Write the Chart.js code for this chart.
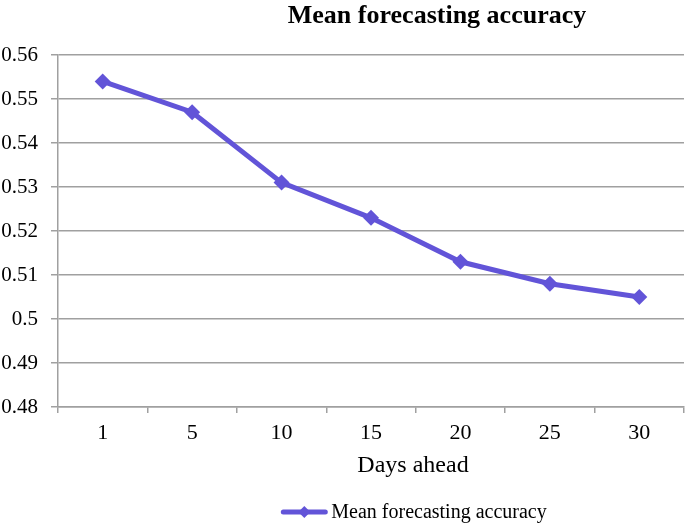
<!DOCTYPE html>
<html>
<head>
<meta charset="utf-8">
<script src="https://cdn.jsdelivr.net/npm/chart.js@4/dist/chart.umd.min.js"></script>
<style>
  html, body { margin: 0; padding: 0; background: #ffffff; overflow: hidden; }
  canvas { display: block; }
</style>
</head>
<body>
<canvas id="c" width="685" height="524" style="width:685px;height:524px"></canvas>
<script>
const chartTitle = "Mean forecasting accuracy";
const xAxisTitle = "Days ahead";
const seriesLabel = "Mean forecasting accuracy";
const days = ["1", "5", "10", "15", "20", "25", "30"];
const accuracy = [0.554, 0.547, 0.531, 0.523, 0.513, 0.508, 0.505];
const yMin = 0.48, yMax = 0.56, yStep = 0.01;

const lineColor = "#6254d8";
const gridColor = "#a0a0a0";
const serif = '"Liberation Serif", "Times New Roman", serif';

const textPlugin = {
  id: 'customText',
  afterDraw(chart) {
    const ctx = chart.ctx;
    ctx.save();
    ctx.fillStyle = '#000000';
    ctx.textAlign = 'center';
    ctx.textBaseline = 'middle';
    ctx.font = 'bold 26px ' + serif;
    ctx.fillText(chartTitle, 437, 16);
    ctx.font = '24px ' + serif;
    ctx.fillText(xAxisTitle, 413, 466);
    // legend
    const ly = 512;
    ctx.font = '20px ' + serif;
    const tw = ctx.measureText(seriesLabel).width;
    const sw = 46, gap = 4;
    const total = sw + gap + tw;
    const x0 = 414 - total / 2;
    ctx.strokeStyle = lineColor;
    ctx.lineWidth = 5;
    ctx.lineCap = 'round';
    ctx.beginPath();
    ctx.moveTo(x0 + 2, ly);
    ctx.lineTo(x0 + sw - 2, ly);
    ctx.stroke();
    ctx.fillStyle = lineColor;
    const cx = x0 + sw / 2, r = 6;
    ctx.beginPath();
    ctx.moveTo(cx, ly - r);
    ctx.lineTo(cx + r, ly);
    ctx.lineTo(cx, ly + r);
    ctx.lineTo(cx - r, ly);
    ctx.closePath();
    ctx.fill();
    ctx.fillStyle = '#000000';
    ctx.textAlign = 'left';
    ctx.fillText(seriesLabel, x0 + sw + gap, ly + 1);
    ctx.restore();
  }
};

new Chart(document.getElementById('c'), {
  type: 'line',
  data: {
    labels: days,
    datasets: [{
      label: seriesLabel,
      data: accuracy,
      borderColor: lineColor,
      backgroundColor: lineColor,
      borderWidth: 5,
      pointStyle: 'rectRot',
      pointRadius: 8,
      pointHoverRadius: 8,
      pointBorderWidth: 0,
      tension: 0,
      fill: false
    }]
  },
  options: {
    responsive: false,
    animation: false,
    events: [],
    layout: { autoPadding: false, padding: { top: 55, right: 1, bottom: 67, left: 0 } },
    plugins: {
      legend: { display: false },
      title: { display: false },
      tooltip: { enabled: false }
    },
    scales: {
      x: {
        type: 'category',
        offset: true,
        grid: {
          offset: true,
          drawOnChartArea: false,
          drawTicks: true,
          tickLength: 6,
          tickColor: gridColor,
          lineWidth: 1.5
        },
        border: { display: true, color: gridColor, width: 1.5 },
        ticks: {
          color: '#000000',
          font: { family: serif, size: 22 },
          padding: 7,
          maxRotation: 0
        },
        afterFit(scale) { scale.height = 50; }
      },
      y: {
        type: 'linear',
        min: yMin,
        max: yMax,
        grid: {
          color: gridColor,
          lineWidth: 1.5,
          drawTicks: true,
          tickLength: 7,
          tickColor: gridColor
        },
        border: { display: true, color: gridColor, width: 1.5 },
        ticks: {
          stepSize: yStep,
          color: '#000000',
          font: { family: serif, size: 21 },
          padding: 13,
          callback: (v) => String(Number(v.toFixed(2)))
        },
        afterFit(scale) { scale.width = 58; }
      }
    }
  },
  plugins: [textPlugin]
});
</script>
</body>
</html>
